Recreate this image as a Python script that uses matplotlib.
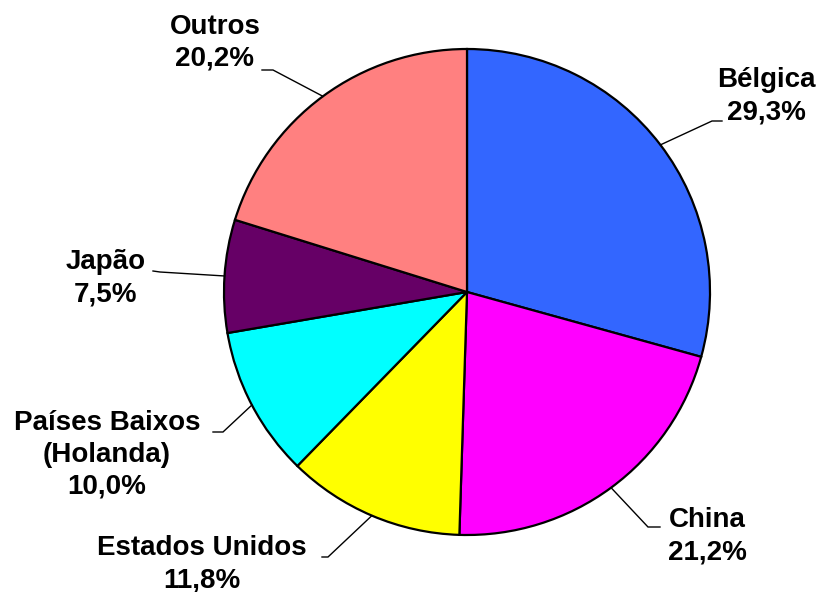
import numpy as np
import matplotlib
matplotlib.use("Agg")
import matplotlib.pyplot as plt

categories = ["Bélgica", "China", "Estados Unidos", "Países Baixos\n(Holanda)", "Japão", "Outros"]
values = [29.3, 21.2, 11.8, 10.0, 7.5, 20.2]
colors = ["#3366FF", "#FF00FF", "#FFFF00", "#00FFFF", "#660066", "#FF8080"]

W, H = 824, 592
fig = plt.figure(figsize=(W / 100, H / 100), dpi=100)
ax = fig.add_axes([0, 0, 1, 1])

cx, cy_px, r = 467, 292, 243
cy = H - cy_px
wedges, _ = ax.pie(values, colors=colors, startangle=90, counterclock=False,
                   center=(cx, cy), radius=r, frame=True,
                   wedgeprops=dict(edgecolor="black", linewidth=1.6))
ax.set_xlim(0, W)
ax.set_ylim(0, H)
ax.set_aspect("equal")
ax.axis("off")

# label layout (pixel coords): text center, elbow point, line end
label_pos = [(766, 96), (707, 536), (202, 564), (107, 455), (106, 278), (215, 43)]
elbow = [(712, 121), (648, 527), (328, 557), (223, 432), (160, 272), (273, 70)]
line_end = [(722, 121), (660, 527), (322, 557), (213, 432), (153, 271), (262, 70)]

total = sum(values)
cum = 0
for i, (cat, v) in enumerate(zip(categories, values)):
    mid = (cum + v / 2) / total
    cum += v
    ang = np.deg2rad(90 - 360 * mid)
    ex, ey = cx + r * np.cos(ang), cy + r * np.sin(ang)
    (bx, by), (lx, ly) = elbow[i], line_end[i]
    ax.plot([ex, bx, lx], [ey, H - by, H - ly], color="black", lw=1.0,
            solid_joinstyle="miter", zorder=3)
    tx, ty = label_pos[i]
    txt = f"{cat}\n{v:.1f}%".replace(".", ",")
    ax.text(tx, H - ty, txt, ha="center", va="center", multialignment="center",
            fontsize=20, fontweight="bold", family=["Liberation Sans", "DejaVu Sans"],
            linespacing=1.3)

fig.savefig("out.png", dpi=100)
